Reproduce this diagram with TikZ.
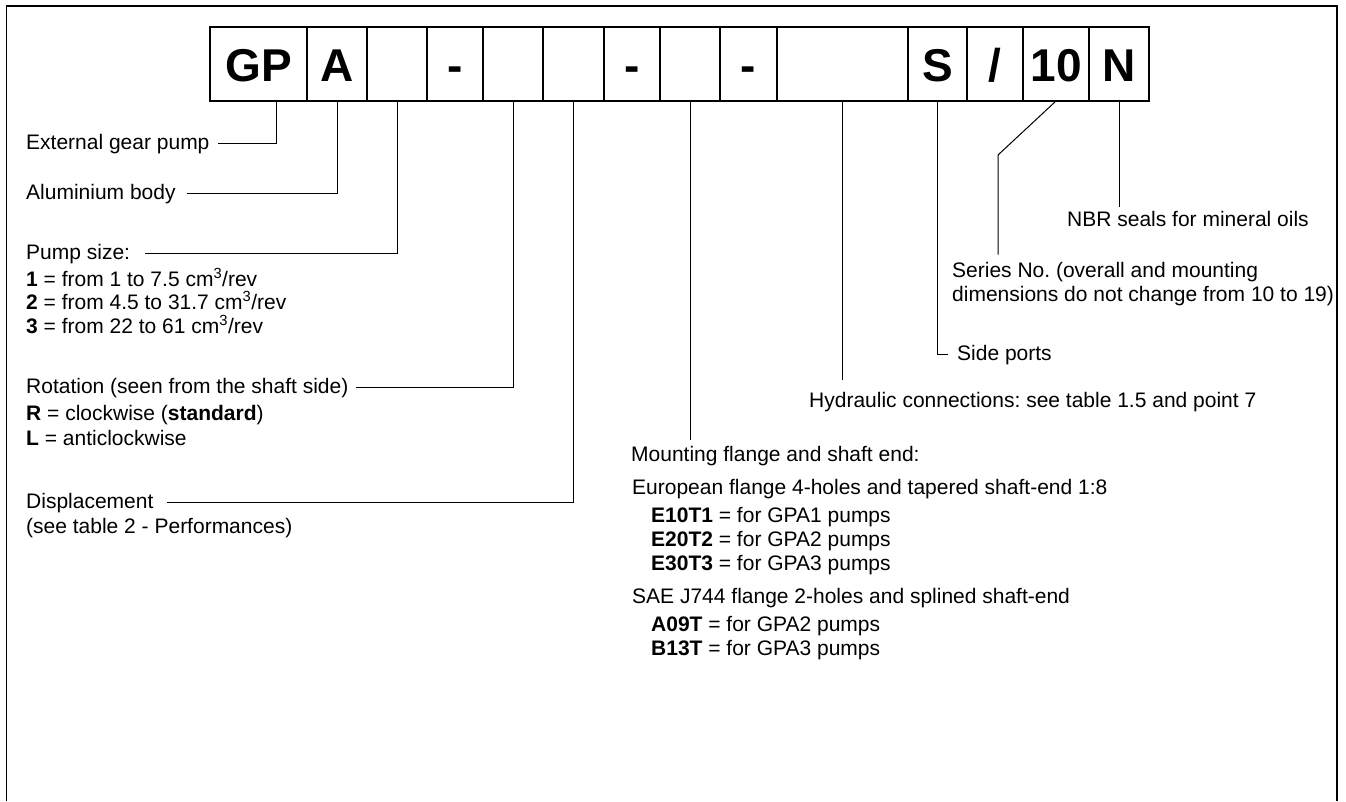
\documentclass[tikz,border=0pt]{standalone}
\usepackage{fontspec}
\setmainfont{Liberation Sans}
\usetikzlibrary{positioning,calc}

\newcommand{\lblfont}{\fontsize{21}{24}\selectfont}
\newcommand{\codefont}{\fontsize{46}{46}\selectfont\bfseries}
\frenchspacing

\begin{document}
\begin{tikzpicture}[
    x=1pt, y=-1pt,
    font=\lblfont,
    cell/.style={draw, line width=1.2pt, outer sep=0pt, inner sep=0pt, minimum height=74pt, text height=34pt, text depth=0pt, font=\codefont},
    lbl/.style={anchor=base west, inner sep=0pt, font=\lblfont},
    lead/.style={line width=1pt},
    frame/.style={line width=1.3pt}
]
\useasboundingbox (0,0) rectangle (1346,801);
\draw[frame] (6.5,801) -- (6.5,6) -- (1337,6) -- (1337,801);

% code boxes
\node[cell, minimum width=97pt, anchor=north west] (cgp) at (210,27) {GP};
\node[cell, minimum width=60pt, right=0pt of cgp] (cbody) {A};
\node[cell, minimum width=60pt, right=0pt of cbody] (csize) {};
\node[cell, minimum width=56pt, right=0pt of csize] (cdash1) {-};
\node[cell, minimum width=60pt, right=0pt of cdash1] (crot) {};
\node[cell, minimum width=61pt, right=0pt of crot] (cdisp) {};
\node[cell, minimum width=56pt, right=0pt of cdisp] (cdash2) {-};
\node[cell, minimum width=60pt, right=0pt of cdash2] (cmount) {};
\node[cell, minimum width=57pt, right=0pt of cmount] (cdash3) {-};
\node[cell, minimum width=131pt, right=0pt of cdash3] (cconn) {};
\node[cell, minimum width=59pt, right=0pt of cconn] (cports) {S};
\node[cell, minimum width=56pt, right=0pt of cports] (cslash) {/};
\node[cell, minimum width=66pt, right=0pt of cslash] (cseries) {10};
\node[cell, minimum width=60pt, right=0pt of cseries] (cseals) {N};

% left labels
\node[lbl] (ext) at (26,149) {External gear pump};
\node[lbl] (alu) at (26,199) {Aluminium body};
\node[lbl] (size) at (26,259) {Pump size:};
\node[lbl] (size1) at (26,286) {\textbf{1} = from 1 to 7.5 cm\textsuperscript{3}/rev};
\node[lbl] (size2) at (26,309) {\textbf{2} = from 4.5 to 31.7 cm\textsuperscript{3}/rev};
\node[lbl] (size3) at (26,333) {\textbf{3} = from 22 to 61 cm\textsuperscript{3}/rev};
\node[lbl] (rot) at (26,393) {Rotation (seen from the shaft side)};
\node[lbl] (rotr) at (26,420) {\textbf{R} = clockwise (\textbf{standard})};
\node[lbl] (rotl) at (26,445) {\textbf{L} = anticlockwise};
\node[lbl] (disp) at (26,508) {Displacement};
\node[lbl] (disp2) at (26,533) {(see table 2 - Performances)};

% right labels
\node[lbl] (seals) at (1067,226) {NBR seals for mineral oils};
\node[lbl] (series) at (952,277) {Series No. (overall and mounting};
\node[lbl] (series2) at (952,301) {dimensions do not change from 10 to 19)};
\node[lbl] (ports) at (957,360) {Side ports};
\node[lbl] (conn) at (809,407) {Hydraulic connections: see table 1.5 and point 7};
\node[lbl] (mount) at (631,461) {Mounting flange and shaft end:};
\node[lbl] (euro) at (632,494) {European flange 4-holes and tapered shaft-end 1:8};
\node[lbl] (euro1) at (651,522) {\textbf{E10T1} = for GPA1 pumps};
\node[lbl] (euro2) at (651,546) {\textbf{E20T2} = for GPA2 pumps};
\node[lbl] (euro3) at (651,570) {\textbf{E30T3} = for GPA3 pumps};
\node[lbl] (sae) at (632,603) {SAE J744 flange 2-holes and splined shaft-end};
\node[lbl] (sae1) at (651,631) {\textbf{A09T} = for GPA2 pumps};
\node[lbl] (sae2) at (651,655) {\textbf{B13T} = for GPA3 pumps};

% leaders
\draw[lead] ([xshift=18pt]cgp.south) |- ([xshift=8pt,yshift=6pt]ext.base east);
\draw[lead] (cbody.south) |- ([xshift=11pt,yshift=6pt]alu.base east);
\draw[lead] (csize.south) |- ([xshift=15pt,yshift=6pt]size.base east);
\draw[lead] (crot.south) |- ([xshift=7pt,yshift=6pt]rot.base east);
\draw[lead] (cdisp.south) |- ([xshift=13pt,yshift=6pt]disp.base east);
\draw[lead] (cmount.south) -- ($(cmount.south |- mount.north)+(0,-6)$);
\draw[lead] (cconn.south) -- ($(cconn.south |- conn.north)+(0,-12)$);
\draw[lead] (cports.south) |- ([xshift=-9pt,yshift=6pt]ports.base west);
\coordinate (bend) at (998,155);
\draw[lead] (cseries.south) -- (bend) -- ($(bend |- series.north)+(0,-7)$);
\draw[lead] (cseals.south) -- ($(cseals.south |- seals.north)+(0,-4)$);
\end{tikzpicture}
\end{document}
